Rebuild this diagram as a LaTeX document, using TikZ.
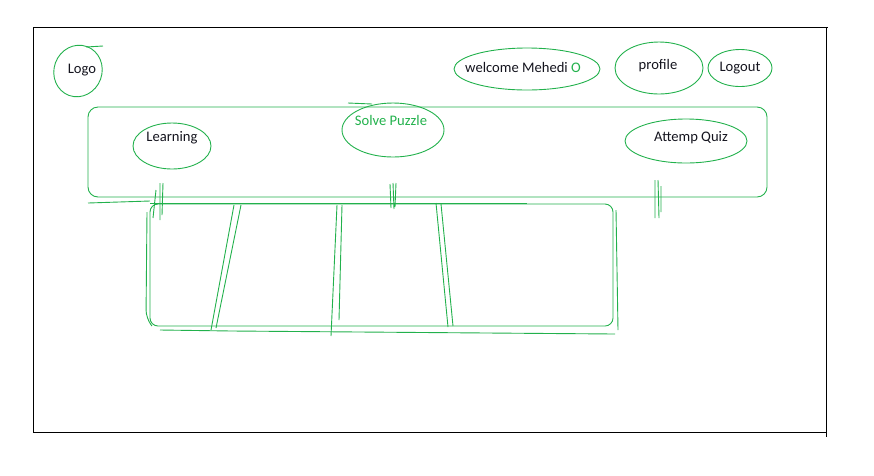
\documentclass[tikz,border=0pt]{standalone}
\usepackage{fontspec}
\setmainfont{Carlito}
\usepackage{xcolor}
\usepackage{tikz}
\usetikzlibrary{shapes.geometric, positioning}
\definecolor{pen}{RGB}{34, 177, 76}
\definecolor{ink}{RGB}{20, 20, 30}

\begin{document}
\begin{tikzpicture}[
  x=1pt, y=-1pt,
  every node/.style={font=\fontsize{14.6}{17}\selectfont},
  txt/.style={inner sep=0pt, text=ink},
  blob/.style={ellipse, draw=pen, line width=0.9pt, inner sep=0pt},
  sketch/.style={draw=pen, line width=0.9pt},
  frame/.style={draw=black, line width=0.9pt}
]
\useasboundingbox (0,0) rectangle (874,475);

% page frame
\draw[frame] (33,27) -- (828,27);
\draw[frame] (33,27) -- (33,432);
\draw[frame] (33,432) -- (826,432);
\draw[frame] (826,27) -- (826,437);

% header
\node[blob, minimum width=48, minimum height=52, rotate=-20] (logoblob) at (78,71) {};
\node[txt] (logo) at (82,70) {Logo};
\draw[sketch] (86,47) -- (103,46);

\node[blob, minimum width=146, minimum height=42] (welcomeblob) at (527,69) {};
\node[txt] (welcome) at (523,67) {welcome Mehedi \textcolor{pen}{O}};

\node[blob, minimum width=88, minimum height=52] (profileblob) at (659,68) {};
\node[txt] (profile) at (658,66) {profile};

\node[blob, minimum width=64, minimum height=37] (logoutblob) at (740,68) {};
\node[txt] (logout) at (740,68) {Logout};

% navigation bar
\draw[sketch, rounded corners=10] (88,107) rectangle (767,197);
\draw[sketch] (88,203) -- (150,201);
\draw[sketch] (150,203) -- (527,203);

\node[blob, minimum width=78, minimum height=46] (learnblob) at (172,146) {};
\node[txt] (learning) at (172,138) {Learning};

\node[blob, minimum width=102, minimum height=54] (puzzleblob) at (393,130) {};
\node[txt, text=pen] (puzzle) at (391,120) {Solve Puzzle};
\draw[sketch] (348,103) -- (372,104);

\node[blob, minimum width=122, minimum height=44] (quizblob) at (686,141) {};
\node[txt] (quiz) at (691,138) {Attemp Quiz};

% tick marks on the bar
\draw[sketch] (160,183) -- (160,220) (163,183) -- (162,215) (156,190) -- (153,218);
\draw[sketch] (390,184) -- (391,208) (393,183) -- (394,209) (396,183) -- (395,207);
\draw[sketch] (655,180) -- (655,218) (658,180) -- (659,218) (661,186) -- (661,212);

% content area
\draw[sketch, rounded corners=8] (150,204) rectangle (613,326);
\draw[sketch, rounded corners=8] (147,212) -- (146,318) -- (152,326);
\draw[sketch] (160,330) -- (232,331) -- (615,334);
\draw[sketch] (616,210) -- (618,330);

% columns
\draw[sketch] (234,205) -- (211,330);
\draw[sketch] (241,205) -- (216,328);
\draw[sketch] (337,205) -- (331,336);
\draw[sketch] (342,205) -- (339,320);
\draw[sketch] (436,203) -- (448,327);
\draw[sketch] (441,204) -- (453,326);

\end{tikzpicture}
\end{document}
